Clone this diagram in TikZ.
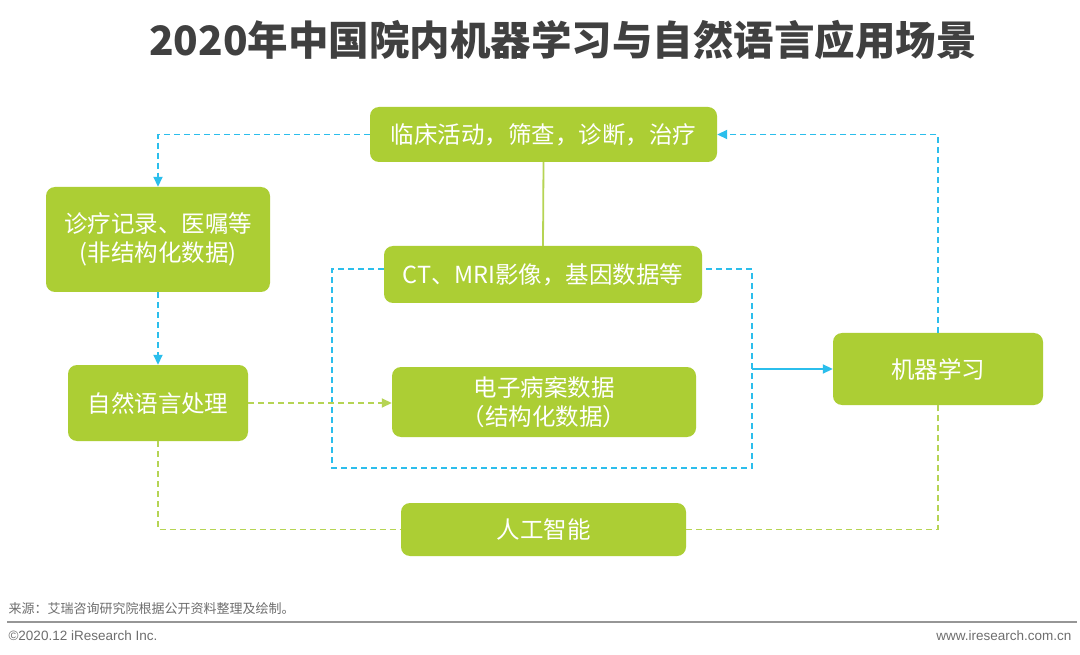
\documentclass[tikz,border=0pt]{standalone}
\usepackage{fontspec}
\setmainfont{Noto Sans CJK SC}
\newfontfamily\latinfont{Liberation Sans}
\usetikzlibrary{arrows.meta}
\definecolor{boxgreen}{RGB}{172,206,52}
\definecolor{lineblue}{RGB}{43,190,236}
\definecolor{linegreen}{RGB}{182,212,84}
\definecolor{titlegray}{RGB}{64,64,64}
\definecolor{footgray}{RGB}{110,110,110}
\definecolor{rulegray}{RGB}{150,150,150}
\begin{document}
\begin{tikzpicture}[x=1pt,y=-1pt,
  box/.style={fill=boxgreen, rounded corners=9pt, text=white, inner sep=0pt,
    font=\fontsize{23.5}{29}\selectfont, align=center},
  bdash/.style={draw=lineblue, line width=1.8pt, dash pattern=on 6pt off 4pt},
  gdash/.style={draw=linegreen, line width=1.8pt, dash pattern=on 6pt off 4pt},
  bsolid/.style={draw=lineblue, line width=1.8pt},
  gsolid/.style={draw=linegreen, line width=1.8pt},
  barr/.style={-{Triangle[length=10pt,width=9pt,fill=lineblue]}},
  garr/.style={-{Triangle[length=10pt,width=9pt,fill=linegreen]}}]
\useasboundingbox (0,0) rectangle (1080,655);
\fill[white] (0,0) rectangle (1080,655);

\node[text=titlegray, font=\fontsize{40.5}{40.5}\selectfont\bfseries] (title) at (563,40)
  {2020年中国院内机器学习与自然语言应用场景};

\node[box, minimum width=347pt, minimum height=55pt] (A) at (543.5,134.5) {临床活动，筛查，诊断，治疗};
\node[box, minimum width=224pt, minimum height=105pt] (B) at (158,239.5) {诊疗记录、医嘱等\\(非结构化数据)};
\node[box, minimum width=318pt, minimum height=57pt] (C) at (543,274.5) {CT、MRI影像，基因数据等};
\node[box, minimum width=180pt, minimum height=76pt] (D) at (158,403) {自然语言处理};
\node[box, minimum width=304pt, minimum height=70pt] (E) at (544,402) {电子病案数据\\（结构化数据）};
\node[box, minimum width=210pt, minimum height=72pt] (F) at (938,369) {机器学习};
\node[box, minimum width=285pt, minimum height=53pt] (G) at (543.5,529.5) {人工智能};

\coordinate (rtl) at (332,269);
\coordinate (rbr) at (752,468);
\draw[bdash] (C.west|-rtl) -- (rtl) |- (rbr) |- (C.east|-rtl);

\draw[bdash, barr] (A.west) -| (B.north);
\draw[bdash, barr] (B.south) -- (D.north);
\draw[gdash, garr] (D.east) -- (E.west|-D.east);
\draw[bsolid, barr] (rbr|-F.west) -- (F.west);
\draw[bdash, barr] (F.north) |- (A.east);
\draw[gsolid] (A.south) -- (C.north);
\draw[gdash] (D.south) |- (G.west);
\draw[gdash] (G.east) -| (F.south);

\node[anchor=west, text=footgray, font=\fontsize{13}{13}\selectfont] (src) at (5,609)
  {来源：艾瑞咨询研究院根据公开资料整理及绘制。};
\draw[rulegray, line width=2.5pt] (7,622) -- (1077,622);
\node[anchor=west, text=footgray, font=\latinfont\fontsize{13.5}{13.5}\selectfont] (copy) at (5,636)
  {©2020.12 iResearch Inc.};
\node[anchor=east, text=footgray, font=\latinfont\fontsize{13.5}{13.5}\selectfont] (web) at (1075,636)
  {www.iresearch.com.cn};
\end{tikzpicture}
\end{document}
